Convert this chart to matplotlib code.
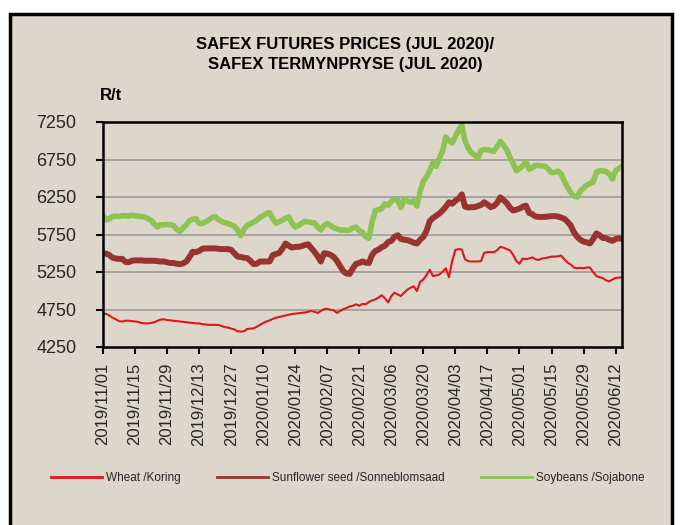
import matplotlib.pyplot as plt
import matplotlib.patches as patches
import pandas as pd

# 163 trading days, 2019/11/01 .. 2020/06/16
dates = pd.bdate_range("2019-11-01", periods=163)
tick_labels = [d.strftime("%Y/%m/%d") for d in dates[::10]]

wheat = [4700, 4690, 4670, 4640, 4620, 4595, 4590, 4600, 4600, 4595,
         4590, 4585, 4570, 4565, 4565, 4570, 4580, 4600, 4615, 4620,
         4610, 4605, 4600, 4595, 4590, 4585, 4580, 4575, 4570, 4565,
         4565, 4555, 4550, 4545, 4545, 4545, 4545, 4530, 4515, 4510,
         4495, 4485, 4460, 4455, 4460, 4490, 4495, 4500, 4520, 4545,
         4570, 4590, 4605, 4625, 4640, 4650, 4660, 4670, 4680, 4690,
         4695, 4700, 4705, 4710, 4720, 4730, 4720, 4705, 4730, 4755,
         4760, 4745, 4740, 4705, 4730, 4755, 4770, 4790, 4800, 4820,
         4800, 4825, 4820, 4850, 4870, 4885, 4910, 4940, 4900, 4845,
         4930, 4975, 4950, 4930, 4975, 5015, 5040, 5060, 4995, 5120,
         5150, 5210, 5280, 5195, 5205, 5215, 5255, 5300, 5180, 5400,
         5545, 5555, 5550, 5420, 5395, 5390, 5390, 5390, 5395, 5505,
         5515, 5515, 5515, 5540, 5585, 5575, 5555, 5540, 5480, 5400,
         5360, 5430, 5420, 5430, 5445, 5420, 5410, 5430, 5435, 5445,
         5455, 5455, 5460, 5470, 5420, 5375, 5350, 5310, 5300, 5305,
         5300, 5310, 5310, 5250, 5195, 5180, 5170, 5140, 5125, 5150,
         5170, 5175, 5180]

sunflower = [5500, 5495, 5475, 5440, 5430, 5425, 5425, 5385, 5380, 5400,
             5405, 5405, 5405, 5400, 5400, 5400, 5400, 5395, 5390, 5390,
             5380, 5370, 5370, 5360, 5355, 5365, 5390, 5450, 5520, 5515,
             5530, 5560, 5565, 5565, 5565, 5565, 5560, 5555, 5555, 5555,
             5545, 5500, 5455, 5450, 5440, 5435, 5400, 5355, 5360, 5390,
             5390, 5390, 5390, 5475, 5490, 5505, 5560, 5630, 5600, 5575,
             5585, 5585, 5595, 5610, 5620, 5570, 5520, 5460, 5390, 5500,
             5495, 5480, 5450, 5400, 5330, 5260, 5230, 5225, 5300, 5360,
             5370, 5390, 5375, 5370, 5480, 5530, 5550, 5580, 5600, 5650,
             5665, 5720, 5740, 5690, 5680, 5675, 5660, 5640, 5630, 5680,
             5720, 5800, 5930, 5970, 6000, 6030, 6070, 6120, 6180, 6160,
             6200, 6230, 6285, 6120, 6110, 6115, 6115, 6130, 6145, 6180,
             6150, 6115, 6130, 6170, 6245, 6210, 6170, 6110, 6070, 6080,
             6095, 6120, 6135, 6040, 6020, 5990, 5985, 5985, 5985, 5990,
             5995, 5995, 5990, 5975, 5960, 5920, 5870, 5780, 5720, 5680,
             5655, 5645, 5630, 5690, 5765, 5740, 5705, 5700, 5680, 5665,
             5690, 5700, 5690]

soybeans = [6000, 5945, 5960, 5990, 5995, 5990, 6000, 6000, 5995, 6005,
            6000, 5995, 5990, 5985, 5960, 5940, 5890, 5850, 5880, 5880,
            5885, 5880, 5870, 5820, 5790, 5840, 5880, 5935, 5955, 5960,
            5900, 5895, 5920, 5945, 5975, 5990, 5950, 5925, 5910, 5895,
            5880, 5860, 5810, 5735, 5820, 5875, 5890, 5915, 5940, 5980,
            6000, 6030, 6040, 5960, 5900, 5920, 5940, 5970, 5985, 5900,
            5850, 5870, 5900, 5925, 5920, 5910, 5905, 5850, 5810, 5870,
            5895, 5870, 5840, 5825, 5810, 5810, 5805, 5810, 5840, 5850,
            5800, 5780, 5720, 5700, 5920, 6070, 6080, 6095, 6160, 6140,
            6190, 6225, 6205, 6110, 6225, 6195, 6180, 6200, 6130, 6330,
            6460, 6520, 6600, 6705, 6660, 6770, 6860, 7050, 7000, 6970,
            7060, 7140, 7210, 7000, 6900, 6840, 6810, 6770, 6870, 6885,
            6880, 6870, 6860, 6920, 6990, 6940, 6880, 6780, 6700, 6600,
            6630, 6665, 6720, 6620, 6640, 6670, 6670, 6665, 6660, 6620,
            6575, 6580, 6595, 6560, 6460, 6380, 6310, 6260, 6250, 6330,
            6370, 6410, 6430, 6450, 6580, 6600, 6600, 6590, 6560, 6490,
            6600, 6630, 6660]

y_ticks = [4250, 4750, 5250, 5750, 6250, 6750, 7250]

font = ['Liberation Sans', 'DejaVu Sans']
bg = '#ddd7cb'
ink = '#262626'

fig = plt.figure(figsize=(6.81, 5.25), dpi=100)
fig.patch.set_facecolor('white')

# outer frame of the chart (behind the axes)
frame = patches.Rectangle((10 / 681, -0.02), 662 / 681, 1 - 14 / 525 + 0.02,
                          transform=fig.transFigure, facecolor=bg,
                          edgecolor='black', linewidth=2.5, zorder=-10)
fig.patches.append(frame)

ax = fig.add_axes([103 / 681, 1 - 347 / 525, 519 / 681, 225 / 525])
ax.set_facecolor('none')

x = list(range(len(dates)))
ax.plot(x, wheat, color='#e3141c', linewidth=1.5, label='Wheat /Koring')
ax.plot(x, sunflower, color='#993333', linewidth=4.3, label='Sunflower seed /Sonneblomsaad')
ax.plot(x, soybeans, color='#8dc353', linewidth=4.0, label='Soybeans /Sojabone')

ax.set_xlim(0, len(dates) - 1)
ax.set_ylim(4250, 7250)
ax.set_yticks(y_ticks)
ax.set_yticklabels([str(v) for v in y_ticks], family=font, fontsize=13, color=ink)
ax.set_xticks(x[::10])
ax.set_xticklabels(tick_labels, rotation=90, family=font, fontsize=12, color=ink)
ax.tick_params(axis='y', direction='out', length=5, width=1.5, pad=14)
ax.tick_params(axis='x', direction='out', length=5, width=1.5, pad=6)

for v in y_ticks[1:-1]:
    ax.axhline(v, color='#9c9c9c', linewidth=1.2, zorder=0)

for s in ax.spines.values():
    s.set_linewidth(1.8)
    s.set_color('black')

fig.text(0.507, 1 - 45 / 525, 'SAFEX FUTURES PRICES (JUL 2020)/', ha='center', va='center',
         family=font, fontweight='bold', fontsize=12)
fig.text(0.507, 1 - 65 / 525, 'SAFEX TERMYNPRYSE (JUL 2020)', ha='center', va='center',
         family=font, fontweight='bold', fontsize=12)
fig.text(100 / 681, 1 - 96 / 525, 'R/t', ha='left', va='center',
         family=font, fontweight='bold', fontsize=12)

leg = fig.legend(loc='center', bbox_to_anchor=(0.511, 1 - 478 / 525), ncol=3,
                 frameon=False, handlelength=4.3, columnspacing=3.1, handletextpad=0.35,
                 prop={'family': font, 'size': 8.5})
for t in leg.get_texts():
    t.set_color(ink)
for line in leg.get_lines():
    line.set_linewidth(2.0)

plt.savefig('out.png', dpi=100)
